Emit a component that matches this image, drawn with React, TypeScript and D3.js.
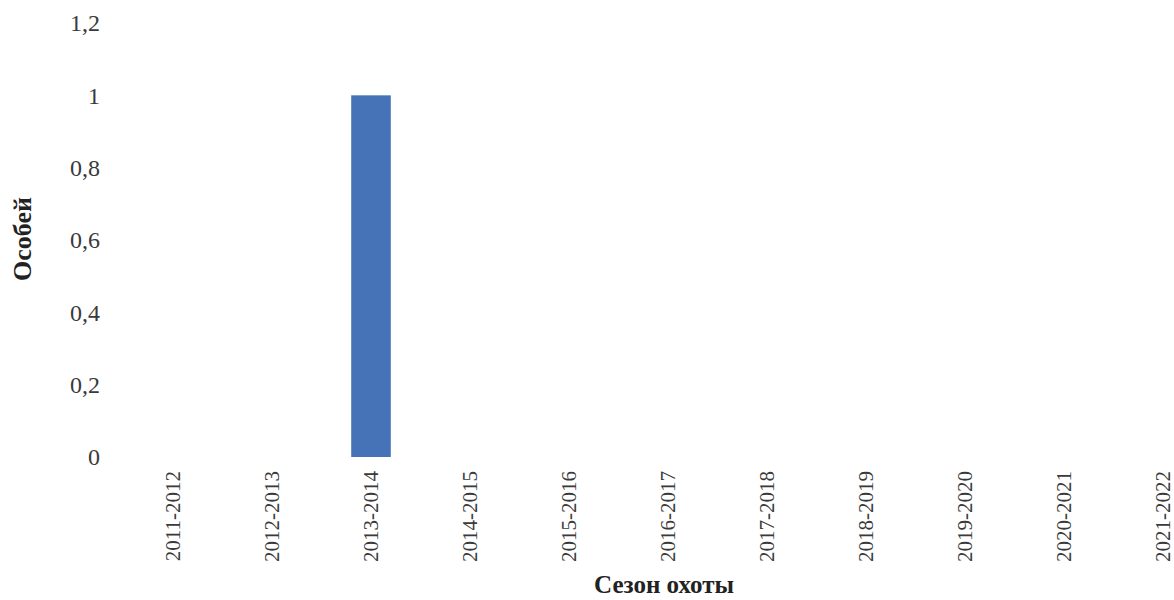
import React from "react";
import * as d3 from "d3";

const categories = [
  "2011-2012", "2012-2013", "2013-2014", "2014-2015", "2015-2016", "2016-2017",
  "2017-2018", "2018-2019", "2019-2020", "2020-2021", "2021-2022",
];
const values = [0, 0, 1, 0, 0, 0, 0, 0, 0, 0, 0];
const yTicks = [0, 0.2, 0.4, 0.6, 0.8, 1, 1.2];
const yTitle = "Особей";
const xTitle = "Сезон охоты";

const W = 1174;
const H = 600;
const FONT = "'Liberation Serif', 'Times New Roman', serif";

export default function App() {
  const x = d3.scaleBand<string>().domain(categories).range([123.5, 1212.5]).paddingInner(0.6).paddingOuter(0.3);
  const y = d3.scaleLinear().domain([0, 1.2]).range([457, 23]);
  const fmt = (v: number) => (Math.round(v * 10) / 10).toString().replace(".", ",");
  return (
    <svg width={W} height={H} style={{ position: "absolute", left: 0, top: 0, background: "#fff" }}>
      <rect x={0} y={0} width={W} height={H} fill="#fff" />
      {yTicks.map((t) => (
        <text key={t} x={100} y={y(t)} dy="0.35em" textAnchor="end" fontFamily={FONT} fontSize={24} fill="#3a3a3a">
          {fmt(t)}
        </text>
      ))}
      {categories.map((c, i) =>
        values[i] > 0 ? (
          <rect key={"b" + c} x={x(c)!} y={y(values[i])} width={x.bandwidth()} height={y(0) - y(values[i])} fill="#4673b8" />
        ) : null
      )}
      {categories.map((c) => {
        const cx = x(c)! + x.bandwidth() / 2;
        return (
          <text key={c} transform={`translate(${cx},471) rotate(-90)`} dy="0.35em" textAnchor="end" fontFamily={FONT} fontSize={21} fill="#3a3a3a">
            {c}
          </text>
        );
      })}
      <text transform="translate(22,239) rotate(-90)" dy="0.35em" textAnchor="middle" fontFamily={FONT} fontSize={26} fontWeight="bold" fill="#222">
        {yTitle}
      </text>
      <text x={664} y={593} textAnchor="middle" fontFamily={FONT} fontSize={25} fontWeight="bold" fill="#222">
        {xTitle}
      </text>
    </svg>
  );
}
